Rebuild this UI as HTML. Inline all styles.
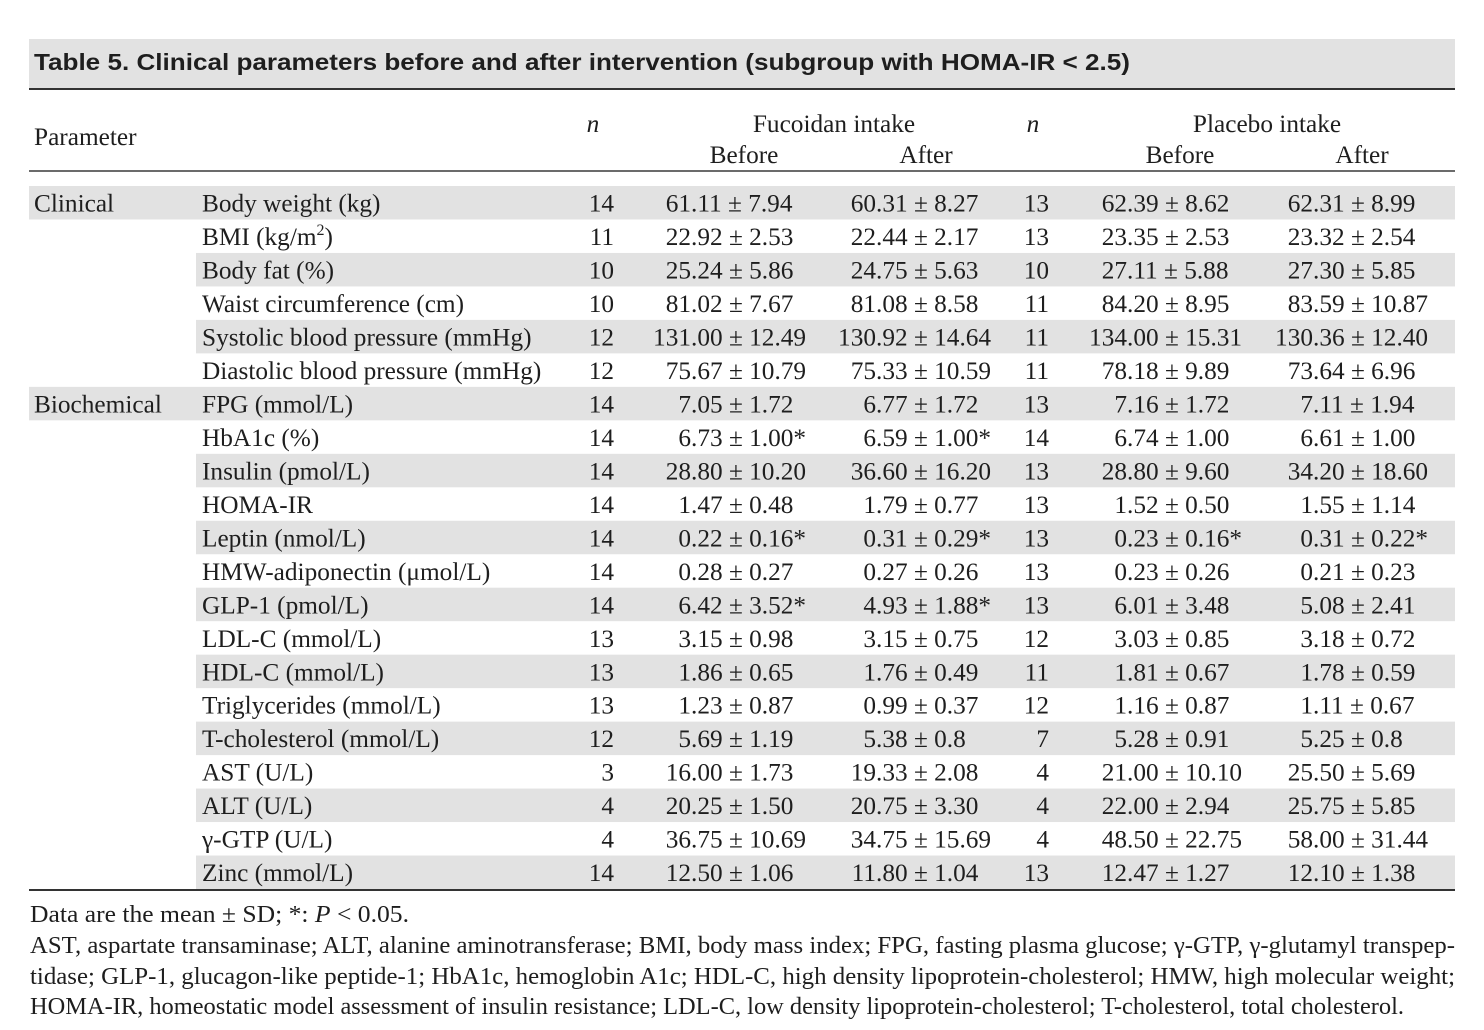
<!DOCTYPE html>
<html>
<head>
<meta charset="utf-8">
<style>
  html, body { margin: 0; padding: 0; background: #ffffff; }
  svg { display: block; }
  .t { font-family: "Liberation Serif", "DejaVu Serif", serif; fill: #1e1e1e; }
</style>
</head>
<body>
<svg width="1484" height="1030" viewBox="0 0 1484 1030" xmlns="http://www.w3.org/2000/svg">
  <rect x="0" y="0" width="1484" height="1030" fill="#ffffff"/>

  <!-- Title bar -->
  <rect x="29" y="39" width="1426" height="49" fill="#e2e2e2"/>
  <text x="34" y="70" font-family="'Liberation Sans', Arial, sans-serif" font-weight="bold" font-size="23" fill="#1e1e1e" textLength="1096" lengthAdjust="spacingAndGlyphs">Table 5. Clinical parameters before and after intervention (subgroup with HOMA-IR &lt; 2.5)</text>
  <rect x="29" y="88" width="1426" height="2" fill="#333333"/>

  <!-- Header rule -->
  <rect x="29" y="170" width="1426" height="2" fill="#6b6b6b"/>

  <!-- Row shading -->
  <g fill="#e2e2e2">
    <rect x="29" y="186" width="1426" height="33.48"/>
    <rect x="196" y="252.95" width="1259" height="33.48"/>
    <rect x="196" y="319.9" width="1259" height="33.48"/>
    <rect x="29" y="386.86" width="1426" height="33.48"/>
    <rect x="196" y="453.81" width="1259" height="33.48"/>
    <rect x="196" y="520.76" width="1259" height="33.48"/>
    <rect x="196" y="587.71" width="1259" height="33.48"/>
    <rect x="196" y="654.66" width="1259" height="33.48"/>
    <rect x="196" y="721.62" width="1259" height="33.48"/>
    <rect x="196" y="788.57" width="1259" height="33.48"/>
    <rect x="196" y="855.52" width="1259" height="33.48"/>
  </g>

  <!-- Bottom rule -->
  <rect x="29" y="889" width="1426" height="2" fill="#333333"/>

  <!-- Table text -->
  <g class="t" font-size="25.3">
    <!-- Header -->
    <text class="t" x="34" y="145">Parameter</text>
    <text class="t" x="593" y="132" text-anchor="middle" font-style="italic">n</text>
    <text class="t" x="834" y="132" text-anchor="middle">Fucoidan intake</text>
    <text class="t" x="744" y="163" text-anchor="middle">Before</text>
    <text class="t" x="926" y="163" text-anchor="middle">After</text>
    <text class="t" x="1033" y="132" text-anchor="middle" font-style="italic">n</text>
    <text class="t" x="1267" y="132" text-anchor="middle">Placebo intake</text>
    <text class="t" x="1180" y="163" text-anchor="middle">Before</text>
    <text class="t" x="1362" y="163" text-anchor="middle">After</text>

    <!-- Category labels -->
    <text class="t" x="34" y="211.6">Clinical</text>
    <text class="t" x="34" y="412.5">Biochemical</text>

    <!-- Parameter labels -->
    <text class="t" x="202" y="211.6">Body weight (kg)</text>
    <text class="t" x="202" y="245.1">BMI (kg/m<tspan font-size="16" dy="-10">2</tspan><tspan dy="10">)</tspan></text>
    <text class="t" x="202" y="278.6">Body fat (%)</text>
    <text class="t" x="202" y="312.0">Waist circumference (cm)</text>
    <text class="t" x="202" y="345.5">Systolic blood pressure (mmHg)</text>
    <text class="t" x="202" y="379.0">Diastolic blood pressure (mmHg)</text>
    <text class="t" x="202" y="412.5">FPG (mmol/L)</text>
    <text class="t" x="202" y="445.9">HbA1c (%)</text>
    <text class="t" x="202" y="479.4">Insulin (pmol/L)</text>
    <text class="t" x="202" y="512.9">HOMA-IR</text>
    <text class="t" x="202" y="546.4">Leptin (nmol/L)</text>
    <text class="t" x="202" y="579.8">HMW-adiponectin (μmol/L)</text>
    <text class="t" x="202" y="613.3">GLP-1 (pmol/L)</text>
    <text class="t" x="202" y="646.8">LDL-C (mmol/L)</text>
    <text class="t" x="202" y="680.3">HDL-C (mmol/L)</text>
    <text class="t" x="202" y="713.7">Triglycerides (mmol/L)</text>
    <text class="t" x="202" y="747.2">T-cholesterol (mmol/L)</text>
    <text class="t" x="202" y="780.7">AST (U/L)</text>
    <text class="t" x="202" y="814.2">ALT (U/L)</text>
    <text class="t" x="202" y="847.6">γ-GTP (U/L)</text>
    <text class="t" x="202" y="881.1">Zinc (mmol/L)</text>

    <!-- n (fucoidan) -->
    <g text-anchor="end">
      <text class="t" x="614" y="211.6">14</text>
      <text class="t" x="614" y="245.1">11</text>
      <text class="t" x="614" y="278.6">10</text>
      <text class="t" x="614" y="312.0">10</text>
      <text class="t" x="614" y="345.5">12</text>
      <text class="t" x="614" y="379.0">12</text>
      <text class="t" x="614" y="412.5">14</text>
      <text class="t" x="614" y="445.9">14</text>
      <text class="t" x="614" y="479.4">14</text>
      <text class="t" x="614" y="512.9">14</text>
      <text class="t" x="614" y="546.4">14</text>
      <text class="t" x="614" y="579.8">14</text>
      <text class="t" x="614" y="613.3">14</text>
      <text class="t" x="614" y="646.8">13</text>
      <text class="t" x="614" y="680.3">13</text>
      <text class="t" x="614" y="713.7">13</text>
      <text class="t" x="614" y="747.2">12</text>
      <text class="t" x="614" y="780.7">3</text>
      <text class="t" x="614" y="814.2">4</text>
      <text class="t" x="614" y="847.6">4</text>
      <text class="t" x="614" y="881.1">14</text>
    </g>

    <!-- n (placebo) -->
    <g text-anchor="end">
      <text class="t" x="1049" y="211.6">13</text>
      <text class="t" x="1049" y="245.1">13</text>
      <text class="t" x="1049" y="278.6">10</text>
      <text class="t" x="1049" y="312.0">11</text>
      <text class="t" x="1049" y="345.5">11</text>
      <text class="t" x="1049" y="379.0">11</text>
      <text class="t" x="1049" y="412.5">13</text>
      <text class="t" x="1049" y="445.9">14</text>
      <text class="t" x="1049" y="479.4">13</text>
      <text class="t" x="1049" y="512.9">13</text>
      <text class="t" x="1049" y="546.4">13</text>
      <text class="t" x="1049" y="579.8">13</text>
      <text class="t" x="1049" y="613.3">13</text>
      <text class="t" x="1049" y="646.8">12</text>
      <text class="t" x="1049" y="680.3">11</text>
      <text class="t" x="1049" y="713.7">12</text>
      <text class="t" x="1049" y="747.2">7</text>
      <text class="t" x="1049" y="780.7">4</text>
      <text class="t" x="1049" y="814.2">4</text>
      <text class="t" x="1049" y="847.6">4</text>
      <text class="t" x="1049" y="881.1">13</text>
    </g>

    <!-- Fucoidan Before -->
    <g text-anchor="end">
      <text class="t" x="691" y="211.6">61</text>
      <text class="t" x="691" y="245.1">22</text>
      <text class="t" x="691" y="278.6">25</text>
      <text class="t" x="691" y="312.0">81</text>
      <text class="t" x="691" y="345.5">131</text>
      <text class="t" x="691" y="379.0">75</text>
      <text class="t" x="691" y="412.5">7</text>
      <text class="t" x="691" y="445.9">6</text>
      <text class="t" x="691" y="479.4">28</text>
      <text class="t" x="691" y="512.9">1</text>
      <text class="t" x="691" y="546.4">0</text>
      <text class="t" x="691" y="579.8">0</text>
      <text class="t" x="691" y="613.3">6</text>
      <text class="t" x="691" y="646.8">3</text>
      <text class="t" x="691" y="680.3">1</text>
      <text class="t" x="691" y="713.7">1</text>
      <text class="t" x="691" y="747.2">5</text>
      <text class="t" x="691" y="780.7">16</text>
      <text class="t" x="691" y="814.2">20</text>
      <text class="t" x="691" y="847.6">36</text>
      <text class="t" x="691" y="881.1">12</text>
    </g>
    <g>
      <text class="t" x="691" y="211.6">.11 ± 7.94</text>
      <text class="t" x="691" y="245.1">.92 ± 2.53</text>
      <text class="t" x="691" y="278.6">.24 ± 5.86</text>
      <text class="t" x="691" y="312.0">.02 ± 7.67</text>
      <text class="t" x="691" y="345.5">.00 ± 12.49</text>
      <text class="t" x="691" y="379.0">.67 ± 10.79</text>
      <text class="t" x="691" y="412.5">.05 ± 1.72</text>
      <text class="t" x="691" y="445.9">.73 ± 1.00*</text>
      <text class="t" x="691" y="479.4">.80 ± 10.20</text>
      <text class="t" x="691" y="512.9">.47 ± 0.48</text>
      <text class="t" x="691" y="546.4">.22 ± 0.16*</text>
      <text class="t" x="691" y="579.8">.28 ± 0.27</text>
      <text class="t" x="691" y="613.3">.42 ± 3.52*</text>
      <text class="t" x="691" y="646.8">.15 ± 0.98</text>
      <text class="t" x="691" y="680.3">.86 ± 0.65</text>
      <text class="t" x="691" y="713.7">.23 ± 0.87</text>
      <text class="t" x="691" y="747.2">.69 ± 1.19</text>
      <text class="t" x="691" y="780.7">.00 ± 1.73</text>
      <text class="t" x="691" y="814.2">.25 ± 1.50</text>
      <text class="t" x="691" y="847.6">.75 ± 10.69</text>
      <text class="t" x="691" y="881.1">.50 ± 1.06</text>
    </g>

    <!-- Fucoidan After -->
    <g text-anchor="end">
      <text class="t" x="876" y="211.6">60</text>
      <text class="t" x="876" y="245.1">22</text>
      <text class="t" x="876" y="278.6">24</text>
      <text class="t" x="876" y="312.0">81</text>
      <text class="t" x="876" y="345.5">130</text>
      <text class="t" x="876" y="379.0">75</text>
      <text class="t" x="876" y="412.5">6</text>
      <text class="t" x="876" y="445.9">6</text>
      <text class="t" x="876" y="479.4">36</text>
      <text class="t" x="876" y="512.9">1</text>
      <text class="t" x="876" y="546.4">0</text>
      <text class="t" x="876" y="579.8">0</text>
      <text class="t" x="876" y="613.3">4</text>
      <text class="t" x="876" y="646.8">3</text>
      <text class="t" x="876" y="680.3">1</text>
      <text class="t" x="876" y="713.7">0</text>
      <text class="t" x="876" y="747.2">5</text>
      <text class="t" x="876" y="780.7">19</text>
      <text class="t" x="876" y="814.2">20</text>
      <text class="t" x="876" y="847.6">34</text>
      <text class="t" x="876" y="881.1">11</text>
    </g>
    <g>
      <text class="t" x="876" y="211.6">.31 ± 8.27</text>
      <text class="t" x="876" y="245.1">.44 ± 2.17</text>
      <text class="t" x="876" y="278.6">.75 ± 5.63</text>
      <text class="t" x="876" y="312.0">.08 ± 8.58</text>
      <text class="t" x="876" y="345.5">.92 ± 14.64</text>
      <text class="t" x="876" y="379.0">.33 ± 10.59</text>
      <text class="t" x="876" y="412.5">.77 ± 1.72</text>
      <text class="t" x="876" y="445.9">.59 ± 1.00*</text>
      <text class="t" x="876" y="479.4">.60 ± 16.20</text>
      <text class="t" x="876" y="512.9">.79 ± 0.77</text>
      <text class="t" x="876" y="546.4">.31 ± 0.29*</text>
      <text class="t" x="876" y="579.8">.27 ± 0.26</text>
      <text class="t" x="876" y="613.3">.93 ± 1.88*</text>
      <text class="t" x="876" y="646.8">.15 ± 0.75</text>
      <text class="t" x="876" y="680.3">.76 ± 0.49</text>
      <text class="t" x="876" y="713.7">.99 ± 0.37</text>
      <text class="t" x="876" y="747.2">.38 ± 0.8</text>
      <text class="t" x="876" y="780.7">.33 ± 2.08</text>
      <text class="t" x="876" y="814.2">.75 ± 3.30</text>
      <text class="t" x="876" y="847.6">.75 ± 15.69</text>
      <text class="t" x="876" y="881.1">.80 ± 1.04</text>
    </g>

    <!-- Placebo Before -->
    <g text-anchor="end">
      <text class="t" x="1127" y="211.6">62</text>
      <text class="t" x="1127" y="245.1">23</text>
      <text class="t" x="1127" y="278.6">27</text>
      <text class="t" x="1127" y="312.0">84</text>
      <text class="t" x="1127" y="345.5">134</text>
      <text class="t" x="1127" y="379.0">78</text>
      <text class="t" x="1127" y="412.5">7</text>
      <text class="t" x="1127" y="445.9">6</text>
      <text class="t" x="1127" y="479.4">28</text>
      <text class="t" x="1127" y="512.9">1</text>
      <text class="t" x="1127" y="546.4">0</text>
      <text class="t" x="1127" y="579.8">0</text>
      <text class="t" x="1127" y="613.3">6</text>
      <text class="t" x="1127" y="646.8">3</text>
      <text class="t" x="1127" y="680.3">1</text>
      <text class="t" x="1127" y="713.7">1</text>
      <text class="t" x="1127" y="747.2">5</text>
      <text class="t" x="1127" y="780.7">21</text>
      <text class="t" x="1127" y="814.2">22</text>
      <text class="t" x="1127" y="847.6">48</text>
      <text class="t" x="1127" y="881.1">12</text>
    </g>
    <g>
      <text class="t" x="1127" y="211.6">.39 ± 8.62</text>
      <text class="t" x="1127" y="245.1">.35 ± 2.53</text>
      <text class="t" x="1127" y="278.6">.11 ± 5.88</text>
      <text class="t" x="1127" y="312.0">.20 ± 8.95</text>
      <text class="t" x="1127" y="345.5">.00 ± 15.31</text>
      <text class="t" x="1127" y="379.0">.18 ± 9.89</text>
      <text class="t" x="1127" y="412.5">.16 ± 1.72</text>
      <text class="t" x="1127" y="445.9">.74 ± 1.00</text>
      <text class="t" x="1127" y="479.4">.80 ± 9.60</text>
      <text class="t" x="1127" y="512.9">.52 ± 0.50</text>
      <text class="t" x="1127" y="546.4">.23 ± 0.16*</text>
      <text class="t" x="1127" y="579.8">.23 ± 0.26</text>
      <text class="t" x="1127" y="613.3">.01 ± 3.48</text>
      <text class="t" x="1127" y="646.8">.03 ± 0.85</text>
      <text class="t" x="1127" y="680.3">.81 ± 0.67</text>
      <text class="t" x="1127" y="713.7">.16 ± 0.87</text>
      <text class="t" x="1127" y="747.2">.28 ± 0.91</text>
      <text class="t" x="1127" y="780.7">.00 ± 10.10</text>
      <text class="t" x="1127" y="814.2">.00 ± 2.94</text>
      <text class="t" x="1127" y="847.6">.50 ± 22.75</text>
      <text class="t" x="1127" y="881.1">.47 ± 1.27</text>
    </g>

    <!-- Placebo After -->
    <g text-anchor="end">
      <text class="t" x="1313" y="211.6">62</text>
      <text class="t" x="1313" y="245.1">23</text>
      <text class="t" x="1313" y="278.6">27</text>
      <text class="t" x="1313" y="312.0">83</text>
      <text class="t" x="1313" y="345.5">130</text>
      <text class="t" x="1313" y="379.0">73</text>
      <text class="t" x="1313" y="412.5">7</text>
      <text class="t" x="1313" y="445.9">6</text>
      <text class="t" x="1313" y="479.4">34</text>
      <text class="t" x="1313" y="512.9">1</text>
      <text class="t" x="1313" y="546.4">0</text>
      <text class="t" x="1313" y="579.8">0</text>
      <text class="t" x="1313" y="613.3">5</text>
      <text class="t" x="1313" y="646.8">3</text>
      <text class="t" x="1313" y="680.3">1</text>
      <text class="t" x="1313" y="713.7">1</text>
      <text class="t" x="1313" y="747.2">5</text>
      <text class="t" x="1313" y="780.7">25</text>
      <text class="t" x="1313" y="814.2">25</text>
      <text class="t" x="1313" y="847.6">58</text>
      <text class="t" x="1313" y="881.1">12</text>
    </g>
    <g>
      <text class="t" x="1313" y="211.6">.31 ± 8.99</text>
      <text class="t" x="1313" y="245.1">.32 ± 2.54</text>
      <text class="t" x="1313" y="278.6">.30 ± 5.85</text>
      <text class="t" x="1313" y="312.0">.59 ± 10.87</text>
      <text class="t" x="1313" y="345.5">.36 ± 12.40</text>
      <text class="t" x="1313" y="379.0">.64 ± 6.96</text>
      <text class="t" x="1313" y="412.5">.11 ± 1.94</text>
      <text class="t" x="1313" y="445.9">.61 ± 1.00</text>
      <text class="t" x="1313" y="479.4">.20 ± 18.60</text>
      <text class="t" x="1313" y="512.9">.55 ± 1.14</text>
      <text class="t" x="1313" y="546.4">.31 ± 0.22*</text>
      <text class="t" x="1313" y="579.8">.21 ± 0.23</text>
      <text class="t" x="1313" y="613.3">.08 ± 2.41</text>
      <text class="t" x="1313" y="646.8">.18 ± 0.72</text>
      <text class="t" x="1313" y="680.3">.78 ± 0.59</text>
      <text class="t" x="1313" y="713.7">.11 ± 0.67</text>
      <text class="t" x="1313" y="747.2">.25 ± 0.8</text>
      <text class="t" x="1313" y="780.7">.50 ± 5.69</text>
      <text class="t" x="1313" y="814.2">.75 ± 5.85</text>
      <text class="t" x="1313" y="847.6">.00 ± 31.44</text>
      <text class="t" x="1313" y="881.1">.10 ± 1.38</text>
    </g>
  </g>

  <!-- Footnotes -->
  <g class="t" font-size="24.5">
    <text class="t" x="30" y="922" textLength="379" lengthAdjust="spacingAndGlyphs">Data are the mean ± SD; *: <tspan font-style="italic">P</tspan> &lt; 0.05.</text>
    <text class="t" x="30" y="953" textLength="1425" lengthAdjust="spacingAndGlyphs">AST, aspartate transaminase; ALT, alanine aminotransferase; BMI, body mass index; FPG, fasting plasma glucose; γ-GTP, γ-glutamyl transpep-</text>
    <text class="t" x="30" y="984" textLength="1425" lengthAdjust="spacingAndGlyphs">tidase; GLP-1, glucagon-like peptide-1; HbA1c, hemoglobin A1c; HDL-C, high density lipoprotein-cholesterol; HMW, high molecular weight;</text>
    <text class="t" x="30" y="1014" textLength="1374" lengthAdjust="spacingAndGlyphs">HOMA-IR, homeostatic model assessment of insulin resistance; LDL-C, low density lipoprotein-cholesterol; T-cholesterol, total cholesterol.</text>
  </g>
</svg>
</body>
</html>
